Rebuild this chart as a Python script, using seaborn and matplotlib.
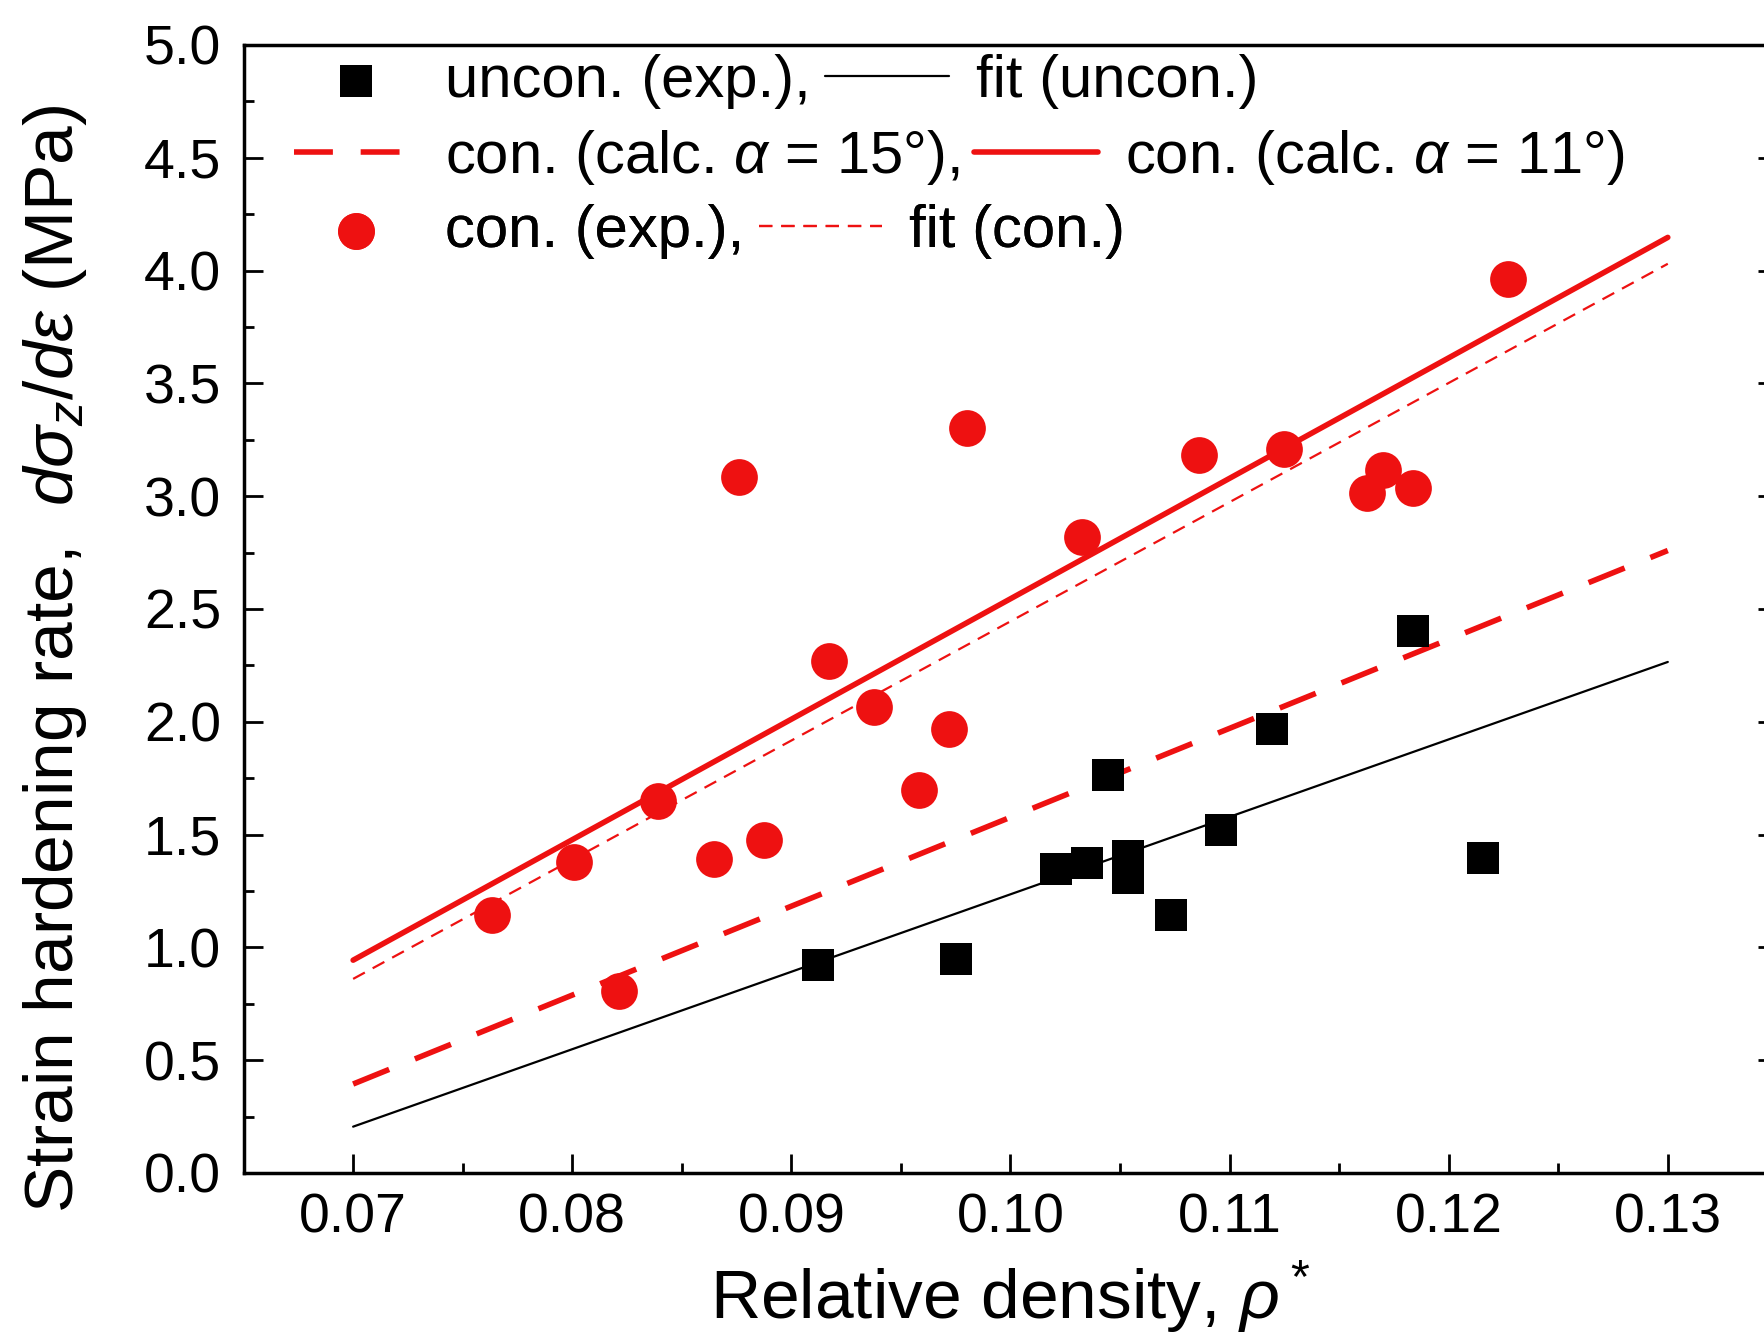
import matplotlib
matplotlib.use("Agg")
import matplotlib.pyplot as plt
import seaborn as sns
from matplotlib.ticker import MultipleLocator

# unconfined, experiment (black squares)
uncon_x = [0.0912, 0.0975, 0.1021, 0.1035, 0.10445, 0.10537, 0.10537,
           0.10733, 0.10959, 0.11195, 0.11838, 0.12157]
uncon_y = [0.923, 0.948, 1.347, 1.372, 1.766, 1.407, 1.307,
           1.143, 1.522, 1.966, 2.400, 1.397]

# confined, experiment (red circles)
con_x = [0.07632, 0.08008, 0.08213, 0.08393, 0.08645, 0.08763, 0.08877,
         0.0917, 0.09375, 0.09581, 0.0972, 0.0980, 0.10327, 0.10861,
         0.11247, 0.11627, 0.11699, 0.11838, 0.1227]
con_y = [1.143, 1.377, 0.808, 1.647, 1.392, 3.084, 1.477,
         2.270, 2.066, 1.697, 1.966, 3.303, 2.819, 3.184,
         3.209, 3.014, 3.114, 3.034, 3.962]

# straight lines, end points
line_x = [0.07, 0.13]
fit_uncon = [0.205, 2.265]
fit_con = [0.86, 4.03]
calc_15 = [0.394, 2.759]
calc_11 = [0.943, 4.147]

lab_sq = "uncon. (exp.),"
lab_fit_u = "fit (uncon.)"
lab_c15 = "con. (calc. $\\alpha$ = 15°),"
lab_c11 = "con. (calc. $\\alpha$ = 11°)"
lab_ci = "con. (exp.),"
lab_fit_c = "fit (con.)"

sns.set_style("ticks")
plt.rcParams['font.family'] = ['Liberation Sans', 'DejaVu Sans']
plt.rcParams['mathtext.fontset'] = 'custom'
plt.rcParams['mathtext.it'] = 'Liberation Sans:italic'
plt.rcParams['mathtext.rm'] = 'Liberation Sans'
for key in ['text.color', 'axes.labelcolor', 'xtick.color', 'ytick.color',
            'axes.edgecolor']:
    plt.rcParams[key] = 'black'

fig = plt.figure(figsize=(17.65, 13.42), dpi=100)
ax = fig.add_axes([0.138, 0.126, 0.869, 0.8405])

red = '#ee1111'
sns.lineplot(x=line_x, y=fit_uncon, color='black', lw=1.6, label=lab_fit_u,
             legend=False, ax=ax, zorder=2)
sns.lineplot(x=line_x, y=calc_15, color=red, lw=4, linestyle=(0, (7, 5)),
             label=lab_c15, legend=False, ax=ax, zorder=2)
sns.lineplot(x=line_x, y=calc_11, color=red, lw=4, label=lab_c11,
             legend=False, ax=ax, zorder=2)
sns.lineplot(x=line_x, y=fit_con, color=red, lw=1.6, linestyle=(0, (6, 4)),
             label=lab_fit_c, legend=False, ax=ax, zorder=2)

sns.scatterplot(x=uncon_x, y=uncon_y, marker='s', s=520, color='black',
                linewidth=0, label=lab_sq, legend=False, ax=ax, zorder=3)
sns.scatterplot(x=con_x, y=con_y, marker='o', s=700, color=red,
                linewidth=0, label=lab_ci, legend=False, ax=ax, zorder=3)

ax.set_xlim(0.065, 0.135)
ax.set_ylim(0, 5.0)
ax.xaxis.set_major_locator(MultipleLocator(0.01))
ax.xaxis.set_minor_locator(MultipleLocator(0.005))
ax.yaxis.set_major_locator(MultipleLocator(0.5))
ax.yaxis.set_minor_locator(MultipleLocator(0.25))
ax.set_xticks([0.07, 0.08, 0.09, 0.10, 0.11, 0.12, 0.13])
ax.set_xticklabels(['0.07', '0.08', '0.09', '0.10', '0.11', '0.12', '0.13'])

ax.tick_params(which='both', direction='in', left=True, right=True,
               top=False, bottom=True, width=2, labelsize=40, colors='black')
ax.tick_params(which='major', length=14)
ax.tick_params(which='minor', length=7)
ax.tick_params(axis='x', pad=14)
ax.tick_params(axis='y', pad=16)
for sp in ax.spines.values():
    sp.set_linewidth(2.5)
    sp.set_color('black')

ax.set_xlabel("Relative density, $\\rho^*$", fontsize=50, labelpad=10)
ax.set_ylabel("Strain hardening rate,  $d\\sigma_z/d\\varepsilon$ (MPa)",
              fontsize=50)
ax.yaxis.set_label_coords(-0.101, 0.456)

# legend: three rows, two entries each, not column aligned
handles, labels = ax.get_legend_handles_labels()
hd = dict(zip(labels, handles))
rows = [([lab_sq, lab_fit_u], 0.968),
        ([lab_c15, lab_c11], 0.900),
        ([lab_ci, lab_fit_c], 0.835)]
for names, yy in rows:
    leg = ax.legend([hd[n] for n in names], names, loc='center left',
                    bbox_to_anchor=(0.033, yy), ncol=2, frameon=False,
                    fontsize=43, handlelength=2.07, handletextpad=0.45,
                    columnspacing=0.25, borderpad=0, borderaxespad=0,
                    scatterpoints=1, labelcolor='black')
    ax.add_artist(leg)

fig.savefig("out.png", dpi=100)
